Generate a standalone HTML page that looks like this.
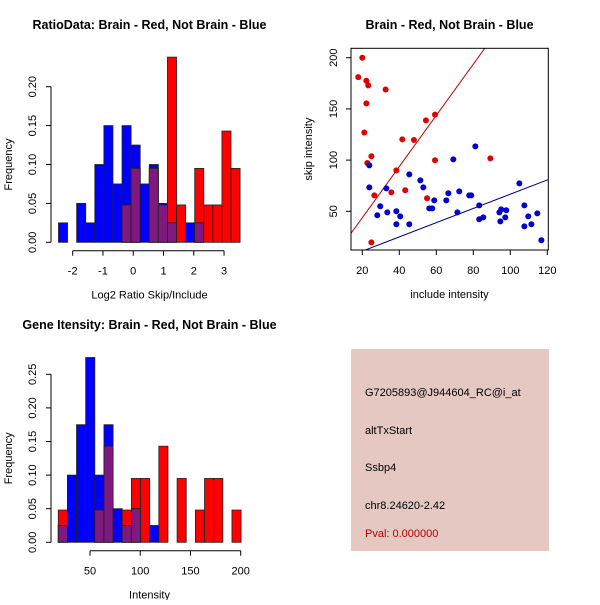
<!DOCTYPE html>
<html><head><meta charset="utf-8"><style>
html,body{margin:0;padding:0;background:#fff;}
svg text{font-family:"Liberation Sans",sans-serif;}
</style></head><body>
<svg id="c" width="600" height="600" xmlns="http://www.w3.org/2000/svg"></svg>
<script>
// ---- Ratio histogram data ----
const ratioBinStart = -2.47;
const ratioBinWidth = 0.3;
const ratioBlue = [0.025,0,0.05,0.025,0.10,0.15,0.075,0.15,0.125,0.075,0.10,0.05,0.025,0,0.025,0.025,0,0,0,0];
const ratioRed  = [0,0,0,0,0,0,0,0.048,0.095,0,0.095,0.048,0.238,0.048,0,0.095,0.048,0.048,0.143,0.095];
const ratioXTicks = [-2,-1,0,1,2,3];
const ratioYTicks = ["0.00","0.05","0.10","0.15","0.20"];
// ---- Intensity histogram data ----
const intBinStart = 18.4;
const intBinWidth = 9.1;
const intBlue = [0.025,0.10,0.175,0.275,0.10,0.175,0.05,0.025,0.05,0,0.025,0,0,0,0,0,0,0,0,0];
const intRed  = [0.048,0,0,0,0.048,0.143,0,0.048,0.095,0.095,0,0.143,0,0.095,0,0.048,0.095,0.095,0,0.048];
const intXTicks = [50,100,150,200];
const intYTicks = ["0.00","0.05","0.10","0.15","0.20","0.25"];
// ---- Scatter data ----
const redX = [20,17.8,22.2,23.2,32.6,22.2,21.1,59.3,54.4,41.6,47.9,24.9,22.7,59.3,89.2,38.4,43.2,26.5,35.7,55,24.9];
const redY = [200,181,177.5,173,169,155.4,127,144.4,138.8,120.3,119.6,103.7,97.2,99.8,101.7,90,70.5,65.6,68.5,62.7,19.7];
const blueX = [23.8,23.8,33,45.4,51.4,53,29.7,28.1,33.5,38.4,40.5,38.4,45.4,56.2,57.8,58.9,65.4,66.5,69.2,72.4,71.4,77.8,78.9,81.1,83.2,83.2,85.4,94.1,95.1,94.6,97.8,97.3,104.9,107.6,107.6,109.7,111.4,114.6,116.8];
const blueY = [94.9,73.4,72.4,86.1,80.2,73.4,54.9,46.1,49,50,45.1,37.3,37.3,52.9,52.9,60.7,60.7,67.6,100.7,69.5,49,65.6,65.6,113.4,55.8,42.2,44.1,49,51.9,40.2,51,44.1,77.3,55.8,35.3,45.1,37.3,48,21.7];
const redLine = [-6.3, 2.5];   // intercept, slope
const blueLine = [-2.8, 0.695];
const scXTicks = [20,40,60,80,100,120];
const scYTicks = [50,100,150,200];

const svg = document.getElementById('c');
const NS = 'http://www.w3.org/2000/svg';
function mk(tag, attrs, parent){
  const e = document.createElementNS(NS, tag);
  for (const k in attrs) e.setAttribute(k, attrs[k]);
  (parent||svg).appendChild(e); return e;
}
function txt(s, x, y, attrs, parent){
  const t = mk('text', Object.assign({x:x, y:y, 'font-size':11, 'text-anchor':'middle', fill:'#000'}, attrs||{}), parent);
  t.textContent = s; return t;
}

function histogram(name, binStart, binWidth, blue, red, sx, sy, xTicks, yTicks, yStep, y0, yAxisX, xAxisY, xt, xTitle, title){
  const g = mk('g', {});
  
  
  for (let i = 0; i < blue.length; i++){
    const xa = sx(binStart + i*binWidth), xb = sx(binStart + (i+1)*binWidth);
    const b = blue[i], r = red[i], m = Math.min(b, r);
    const parts = [];
    if (b > 0) parts.push([b, '#0000ff', 'blue']);
    if (r > 0) parts.push([r, '#ff0000', 'red']);
    parts.sort((p, q) => q[0] - p[0]);
    parts.forEach(p => {
      const rc = mk('rect', {x:xa, y:sy(p[0]), width:xb-xa, height:sy(0)-sy(p[0]), fill:p[1], stroke:'#222', 'stroke-width':0.8}, g);
      
      
    });
    if (m > 0){
      const rc = mk('rect', {x:xa, y:sy(m), width:xb-xa, height:sy(0)-sy(m), fill:'#7f187f', stroke:'#222', 'stroke-width':0.8}, g);
      
      
    }
  }
  // y axis
  const yv = yTicks.map(Number);
  mk('line', {x1:yAxisX, x2:yAxisX, y1:sy(yv[0]), y2:sy(yv[yv.length-1]), stroke:'#000'}, g);
  yTicks.forEach(t => {
    const y = sy(Number(t));
    mk('line', {x1:yAxisX-5, x2:yAxisX, y1:y, y2:y, stroke:'#000'}, g);
    const tt = txt(t, yAxisX-15, y, {transform:'rotate(-90 '+(yAxisX-15)+' '+y+')'}, g);
    
    
  });
  // x axis
  mk('line', {x1:sx(xTicks[0]), x2:sx(xTicks[xTicks.length-1]), y1:xAxisY, y2:xAxisY, stroke:'#000'}, g);
  xTicks.forEach(t => {
    const x = sx(t);
    mk('line', {x1:x, x2:x, y1:xAxisY, y2:xAxisY+5, stroke:'#000'}, g);
    const tt = txt(String(t), x, xAxisY+24, {}, g);
    
    
  });
  const xtl = txt(xTitle, 149.5, xAxisY+48, {}, g);
  
  
  const ym = (sy(yv[0]) + sy(yv[yv.length-1]))/2;
  const ytl = txt('Frequency', 12, ym, {transform:'rotate(-90 12 '+ym+')'}, g);
  
  
  const ttl = txt(title, 149.5, xt, {'font-weight':'bold', 'font-size':12.5}, g);
  
  
}

// Top-left ratio histogram
{
  const sx = v => 72.7 + (v + 2) * 30.27;
  const sy = v => 242.3 - v * 778;
  histogram('ratio-histogram', ratioBinStart, ratioBinWidth, ratioBlue, ratioRed, sx, sy, ratioXTicks, ratioYTicks, 0.05, 0, 51, 250.7, 29, 'Log2 Ratio Skip/Include', 'RatioData: Brain - Red, Not Brain - Blue');
}
// Bottom-left intensity histogram
{
  const sx = v => 90 + (v - 50) * 1.0047;
  const sy = v => 542.3 - v * 672;
  histogram('intensity-histogram', intBinStart, intBinWidth, intBlue, intRed, sx, sy, intXTicks, intYTicks, 0.05, 0, 51, 550.7, 329, 'Intensity', 'Gene Itensity: Brain - Red, Not Brain - Blue');
}
// Scatter
{
  const g = mk('g', {});
  
  
  const L = 351, R = 548.3, T = 48.3, B = 250;
  const sx = v => 362.3 + (v - 20) * 1.85;
  const sy = v => 57.7 + (200 - v) * 1.024;
  const dx = v => 20 + (v - 362.3) / 1.85;
  const defs = mk('defs', {}, g);
  const cp = mk('clipPath', {id:'clip'}, defs);
  mk('rect', {x:L, y:T, width:R-L, height:B-T}, cp);
  [[redLine, '#c00000', 'red-fit-line'], [blueLine, '#000090', 'blue-fit-line']].forEach(l => {
    const x1 = dx(L), x2 = dx(R);
    const ln = mk('line', {x1:sx(x1), y1:sy(l[0][0] + l[0][1]*x1), x2:sx(x2), y2:sy(l[0][0] + l[0][1]*x2), stroke:l[1], 'stroke-width':1, 'clip-path':'url(#clip)'}, g);
    
    
  });
  redX.forEach((x, i) => {
    const c = mk('circle', {cx:sx(x), cy:sy(redY[i]), r:3, fill:'#e00000'}, g);
    
    
  });
  blueX.forEach((x, i) => {
    const c = mk('circle', {cx:sx(x), cy:sy(blueY[i]), r:3, fill:'#0000d0'}, g);
    
    
  });
  mk('rect', {x:L, y:T, width:R-L, height:B-T, fill:'none', stroke:'#000'}, g);
  scXTicks.forEach(t => {
    const x = sx(t);
    mk('line', {x1:x, x2:x, y1:B, y2:B+5, stroke:'#000'}, g);
    const tt = txt(String(t), x, 274, {}, g);
    
    
  });
  scYTicks.forEach(t => {
    const y = sy(t);
    mk('line', {x1:L-5, x2:L, y1:y, y2:y, stroke:'#000'}, g);
    const tt = txt(String(t), 337, y, {transform:'rotate(-90 337 '+y+')'}, g);
    
    
  });
  const xtl = txt('include intensity', 449.5, 298, {}, g);
  
  
  const ym = (T + B) / 2;
  const ytl = txt('skip intensity', 312, ym, {transform:'rotate(-90 312 '+ym+')'}, g);
  
  
  const ttl = txt('Brain - Red, Not Brain - Blue', 449.5, 29, {'font-weight':'bold', 'font-size':12.5}, g);
  
  
}
// Info panel
{
  const g = mk('g', {});
  
  
  mk('rect', {x:351, y:349, width:198, height:202, fill:'#e5c8c2'}, g);
  const lines = [['G7205893@J944604_RC@i_at', 396, '#000', 'probe-id'], ['altTxStart', 434, '#000', 'event-type'], ['Ssbp4', 471, '#000', 'gene-name'], ['chr8.24620-2.42', 509, '#000', 'location'], ['Pval: 0.000000', 537, '#b00000', 'p-value']];
  lines.forEach(l => {
    const t = txt(l[0], 365, l[1], {'text-anchor':'start', fill:l[2]}, g);
    
    
  });
}
</script>
</body></html>
